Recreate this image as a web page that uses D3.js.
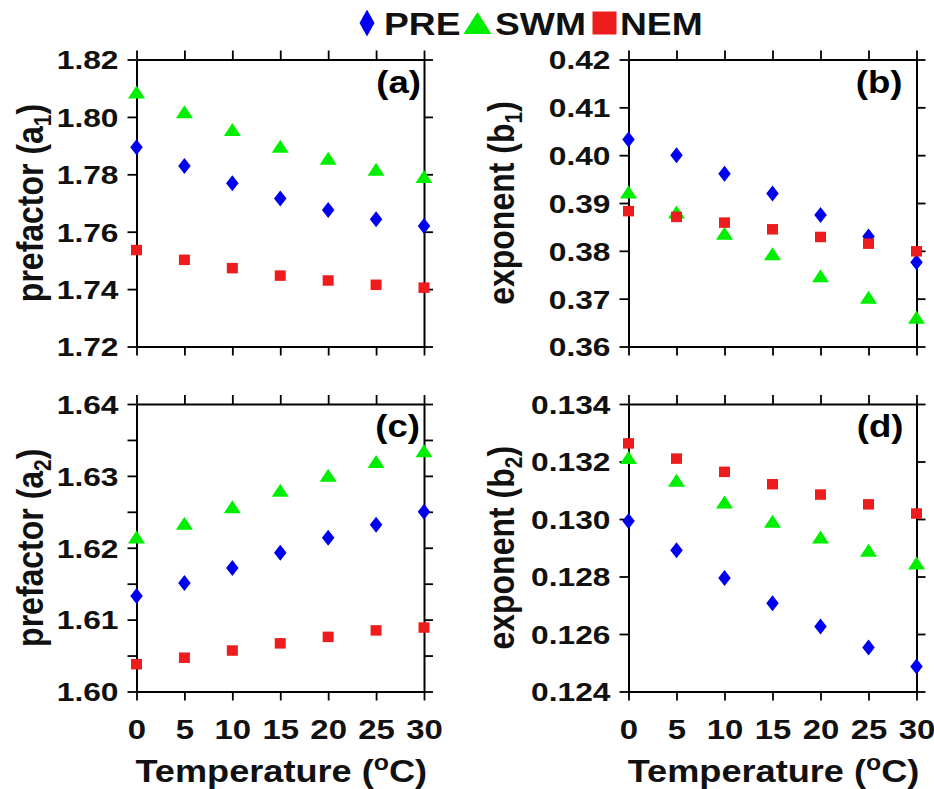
<!DOCTYPE html>
<html><head><meta charset="utf-8">
<script src="https://cdn.jsdelivr.net/npm/d3@7"></script>
<style>html,body{margin:0;padding:0;background:#fff;}svg{display:block;}</style>
</head><body>
<svg id="chart" width="934" height="789"></svg>
<script>
// ---------------- DATA ----------------
const temps = [0, 5, 10, 15, 20, 25, 30];
const xTicks = [0, 5, 10, 15, 20, 25, 30];
const seriesNames = ["PRE", "SWM", "NEM"];

const a1PRE = [1.7894, 1.7829, 1.7769, 1.7716, 1.7676, 1.7643, 1.7620];
const a1SWM = [1.8087, 1.8018, 1.7956, 1.7898, 1.7856, 1.7818, 1.7792];
const a1NEM = [1.7536, 1.7502, 1.7473, 1.7447, 1.7430, 1.7415, 1.7405];

const b1PRE = [0.4033, 0.4000, 0.3961, 0.3920, 0.3875, 0.3830, 0.3776];
const b1SWM = [0.3923, 0.3881, 0.3837, 0.3794, 0.3748, 0.3703, 0.3661];
const b1NEM = [0.3883, 0.3871, 0.3859, 0.3845, 0.3829, 0.3815, 0.3799];

const a2PRE = [1.6133, 1.6151, 1.6172, 1.6193, 1.6214, 1.6232, 1.6250];
const a2SWM = [1.6215, 1.6234, 1.6257, 1.6280, 1.6301, 1.6320, 1.6335];
const a2NEM = [1.6038, 1.6047, 1.6057, 1.6067, 1.6076, 1.6085, 1.6089];

const b2PRE = [0.12993, 0.12891, 0.12795, 0.12707, 0.12626, 0.12553, 0.12487];
const b2SWM = [0.13214, 0.13135, 0.13059, 0.12992, 0.12937, 0.12891, 0.12847];
const b2NEM = [0.13263, 0.13210, 0.13164, 0.13121, 0.13085, 0.13051, 0.13019];

const a1Ticks = [1.72, 1.74, 1.76, 1.78, 1.80, 1.82];
const b1Ticks = [0.36, 0.37, 0.38, 0.39, 0.40, 0.41, 0.42];
const a2Ticks = [1.600, 1.605, 1.610, 1.615, 1.620, 1.625, 1.630, 1.635, 1.640];
const a2Labeled = [1.60, 1.61, 1.62, 1.63, 1.64];
const b2Ticks = [0.124, 0.126, 0.128, 0.130, 0.132, 0.134];

// ---------------- STYLE / LAYOUT ----------------
const FONT = "'Liberation Sans', Arial, Helvetica, sans-serif";
const colors = { PRE: "#0000f0", SWM: "#00ee00", NEM: "#ee1c1c" };
const SX = 1.22; // horizontal glyph stretch seen in reference

const svg = d3.select("#chart");

function markerPath(name, w, h) {
  if (name === "PRE") return `M0,${-h/2}L${w/2},0L0,${h/2}L${-w/2},0Z`;
  if (name === "SWM") return `M0,${-h/2}L${w/2},${h/2}L${-w/2},${h/2}Z`;
  return `M${-w/2},${-h/2}H${w/2}V${h/2}H${-w/2}Z`;
}
const plotSize = { PRE: [12.5, 16], SWM: [17, 13], NEM: [11, 10.5] };

const panels = [
  { key: "a", x0: 136.5, x1: 424, y0: 59.5, y1: 346.5, dom: [1.72, 1.82], ticks: a1Ticks, labeled: a1Ticks, fmt: ".2f",
    data: { PRE: a1PRE, SWM: a1SWM, NEM: a1NEM }, yl: ["prefactor (a", "1", ")"], xlab: false, tagRight: 3 },
  { key: "b", x0: 628.5, x1: 916.5, y0: 59.5, y1: 346.5, dom: [0.36, 0.42], ticks: b1Ticks, labeled: b1Ticks, fmt: ".2f",
    data: { PRE: b1PRE, SWM: b1SWM, NEM: b1NEM }, yl: ["exponent (b", "1", ")"], xlab: false, tagRight: 14 },
  { key: "c", x0: 136.5, x1: 424, y0: 404, y1: 691.5, dom: [1.60, 1.64], ticks: a2Ticks, labeled: a2Labeled, fmt: ".2f",
    data: { PRE: a2PRE, SWM: a2SWM, NEM: a2NEM }, yl: ["prefactor (a", "2", ")"], xlab: true, tagRight: 4 },
  { key: "d", x0: 628.5, x1: 916.5, y0: 404, y1: 691.5, dom: [0.124, 0.134], ticks: b2Ticks, labeled: b2Ticks, fmt: ".3f",
    data: { PRE: b2PRE, SWM: b2SWM, NEM: b2NEM }, yl: ["exponent (b", "2", ")"], xlab: true, tagRight: 13 }
];

function styleAxis(g) {
  g.select(".domain").attr("stroke", "#000").attr("stroke-width", 2);
  g.selectAll(".tick line").attr("stroke", "#000").attr("stroke-width", 1.8);
}

panels.forEach(p => {
  const x = d3.scaleLinear().domain([0, 30]).range([p.x0, p.x1]);
  const y = d3.scaleLinear().domain(p.dom).range([p.y1, p.y0]);
  const fmt = d3.format(p.fmt);
  const isLab = v => p.labeled.some(l => Math.abs(l - v) < 1e-9);

  // left axis
  const gl = svg.append("g").attr("transform", `translate(${p.x0},0)`)
    .call(d3.axisLeft(y).tickValues(p.ticks).tickSize(9).tickSizeOuter(0).tickPadding(10)
      .tickFormat(v => isLab(v) ? fmt(v) : ""));
  styleAxis(gl);
  gl.selectAll(".tick text")
    .style("font-family", FONT).style("font-size", "26px").style("font-weight", "bold").attr("fill", "#111")
    .attr("x", -18 / SX).attr("dy", "0.36em").attr("transform", `scale(${SX},1)`);

  // right axis
  const gr = svg.append("g").attr("transform", `translate(${p.x1},0)`)
    .call(d3.axisRight(y).tickValues(p.ticks).tickSize(9).tickSizeOuter(0).tickFormat(""));
  styleAxis(gr);

  // top axis
  const gt = svg.append("g").attr("transform", `translate(0,${p.y0})`)
    .call(d3.axisTop(x).tickValues(xTicks).tickSize(9).tickSizeOuter(0).tickFormat(""));
  styleAxis(gt);

  // bottom axis
  const gb = svg.append("g").attr("transform", `translate(0,${p.y1})`)
    .call(d3.axisBottom(x).tickValues(xTicks).tickSize(9).tickSizeOuter(0).tickPadding(19)
      .tickFormat(p.xlab ? d3.format("d") : ""));
  styleAxis(gb);
  gb.selectAll(".tick text")
    .style("font-family", FONT).style("font-size", "27px").style("font-weight", "bold").attr("fill", "#111")
    .attr("transform", `scale(${SX},1)`).attr("x", 0);

  // markers
  seriesNames.forEach(s => {
    const [w, h] = plotSize[s];
    svg.append("g").selectAll("path").data(temps.map((t, i) => [t, p.data[s][i]]))
      .join("path")
      .attr("transform", d => `translate(${x(d[0])},${y(d[1])})`)
      .attr("d", markerPath(s, w, h))
      .attr("fill", colors[s]);
  });

  // panel tag
  svg.append("text")
    .attr("transform", `translate(${p.x1 - p.tagRight},${p.y0 + 33}) scale(1.18,1)`)
    .attr("text-anchor", "end")
    .style("font-family", FONT).style("font-size", "31px").style("font-weight", "bold")
    .text(`(${p.key})`);

  // y label
  const cy = (p.y0 + p.y1) / 2;
  const lx = p.x0 === 136.5 ? 43 : 514;
  const yt = svg.append("text")
    .attr("transform", `translate(${lx},${cy}) scale(1.18,1) rotate(-90)`)
    .attr("text-anchor", "middle")
    .style("font-family", FONT).style("font-size", "32px").style("font-weight", "bold").attr("fill", "#111");
  yt.append("tspan").text(p.yl[0]);
  yt.append("tspan").attr("dy", 7).style("font-size", "21px").text(p.yl[1]);
  yt.append("tspan").attr("dy", -7).text(p.yl[2]);

  // x label
  if (p.xlab) {
    const xt = svg.append("text")
      .attr("transform", `translate(${(p.x0 + p.x1) / 2 + 1},782) scale(1.13,1)`)
      .attr("text-anchor", "middle")
      .style("font-family", FONT).style("font-size", "32px").style("font-weight", "bold").attr("fill", "#111");
    xt.append("tspan").text("Temperature (");
    xt.append("tspan").attr("dy", -12).style("font-size", "22px").text("o");
    xt.append("tspan").attr("dy", 12).text("C)");
  }
});

// ---------------- LEGEND ----------------
const legendItems = [
  { name: "PRE", mx: 367, w: 15, h: 27, tx: 384 },
  { name: "SWM", mx: 477.5, w: 28, h: 22, tx: 495 },
  { name: "NEM", mx: 604.5, w: 24, h: 23, tx: 620 }
];
const lg = svg.append("g");
legendItems.forEach(it => {
  lg.append("path").attr("transform", `translate(${it.mx},23)`)
    .attr("d", markerPath(it.name, it.w, it.h)).attr("fill", colors[it.name]);
  lg.append("text").attr("transform", `translate(${it.tx},35) scale(1.2,1)`)
    .style("font-family", FONT).style("font-size", "31px").style("font-weight", "bold").attr("fill", "#111")
    .text(it.name);
});
</script>
</body></html>
